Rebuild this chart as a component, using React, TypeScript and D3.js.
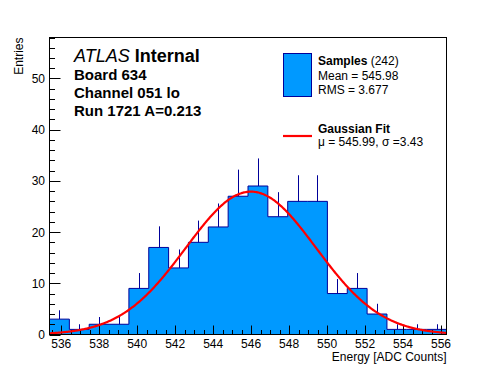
// EnergyHistogram — ROOT-style ADC energy histogram with a Gaussian fit overlay.
import * as d3 from "d3";

const W = 496;
const H = 372;
const FRAME = { left: 49.5, right: 446.5, top: 37.5, bottom: 334.5 };
const FONT = "'Liberation Sans', Arial, Helvetica, sans-serif";
const FILL = "#0099ff";
const EDGE = "#000099";

// histogram: 20 equal bins between binRange[0] and binRange[1]
const binRange = [535.38, 556.29];
const counts = [3, 1, 2, 2, 9, 17, 13, 18, 21, 27, 29, 23, 26, 26, 8, 9, 4, 1, 1, 1];
const yMax = 58;

// gaussian fit parameters
const fitMu = 545.99;
const fitSigma = 3.43;
const fitAmp = 27.9;

const xMajorTicks = [536, 538, 540, 542, 544, 546, 548, 550, 552, 554, 556];
const yMajorTicks = [0, 10, 20, 30, 40, 50];

const infoLines = ["Board 634", "Channel 051 lo", "Run 1721 A=0.213"];

export default function App() {
  const x = d3.scaleLinear().domain(binRange).range([FRAME.left, FRAME.right]);
  const y = d3.scaleLinear().domain([0, yMax]).range([FRAME.bottom, FRAME.top]);

  const nBins = counts.length;
  const bw = (binRange[1] - binRange[0]) / nBins;
  const edges = d3.range(nBins + 1).map((i) => binRange[0] + i * bw);

  // step outline of the histogram
  const stepPts: [number, number][] = [[edges[0], 0]];
  counts.forEach((c, i) => {
    stepPts.push([edges[i], c]);
    stepPts.push([edges[i + 1], c]);
  });
  stepPts.push([edges[nBins], 0]);
  const stepLine = d3.line<[number, number]>()
    .x((d) => x(d[0]))
    .y((d) => y(d[1]));

  const gauss = (v: number) => fitAmp * Math.exp(-0.5 * ((v - fitMu) / fitSigma) ** 2);
  const fitPts = d3.range(binRange[0], binRange[1], 0.05).concat([binRange[1]]);
  const fitLine = d3.line<number>()
    .x((d) => x(d))
    .y((d) => y(gauss(d)))
    .curve(d3.curveMonotoneX);

  const xMinor = d3.range(535.5, binRange[1], 0.5).filter((v) => !xMajorTicks.includes(v));
  const yMinor = d3.range(0, yMax + 0.001, 2).filter((v) => v % 10 !== 0);

  return (
    <svg width={W} height={H} style={{ position: "absolute", left: 0, top: 0, background: "#fff" }}
      fontFamily={FONT}>
      <rect x={0} y={0} width={W} height={H} fill="#fff" />

      {/* histogram fill + outline */}
      <path d={stepLine(stepPts) ?? ""} fill={FILL} stroke="none" />
      <path d={stepLine(stepPts) ?? ""} fill="none" stroke={EDGE} strokeWidth={1} />

      {/* error bars (upper half) */}
      {counts.map((c, i) => {
        const cx = Math.round(x(edges[i] + bw / 2)) + 0.5;
        return (
          <line key={i} x1={cx} x2={cx} y1={y(c)} y2={y(c + Math.sqrt(c))} stroke={EDGE} strokeWidth={1} />
        );
      })}

      {/* axes ticks */}
      <g stroke="#000" strokeWidth={1}>
        {xMajorTicks.map((t) => {
          const tx = Math.round(x(t)) + 0.5;
          return <line key={"xM" + t} x1={tx} x2={tx} y1={FRAME.bottom} y2={FRAME.bottom - 9} />;
        })}
        {xMinor.map((t) => {
          const tx = Math.round(x(t)) + 0.5;
          return <line key={"xm" + t} x1={tx} x2={tx} y1={FRAME.bottom} y2={FRAME.bottom - 4.5} />;
        })}
        {yMajorTicks.map((t) => {
          const ty = Math.round(y(t)) + 0.5;
          return <line key={"yM" + t} x1={FRAME.left} x2={FRAME.left + 11} y1={ty} y2={ty} />;
        })}
        {yMinor.map((t) => {
          const ty = Math.round(y(t)) + 0.5;
          return <line key={"ym" + t} x1={FRAME.left} x2={FRAME.left + 5.5} y1={ty} y2={ty} />;
        })}
      </g>

      {/* gaussian fit */}
      <path d={fitLine(fitPts) ?? ""} fill="none" stroke="#ff0000" strokeWidth={2.2} />

      {/* frame */}
      <rect x={FRAME.left} y={FRAME.top} width={FRAME.right - FRAME.left} height={FRAME.bottom - FRAME.top}
        fill="none" stroke="#000" strokeWidth={1} />

      {/* tick labels */}
      <g fontSize={12} fill="#000">
        {xMajorTicks.map((t) => (
          <text key={"xl" + t} x={x(t)} y={347.5} textAnchor="middle">{t}</text>
        ))}
        {yMajorTicks.map((t) => (
          <text key={"yl" + t} x={45} y={y(t) + 4.5} textAnchor="end">{t}</text>
        ))}
      </g>

      {/* axis titles */}
      <text x={FRAME.right} y={360.5} textAnchor="end" fontSize={12}>Energy [ADC Counts]</text>
      <text transform={`translate(23,${FRAME.top}) rotate(-90)`} textAnchor="end" fontSize={12}>Entries</text>

      {/* label block */}
      <text x={74} y={62} fontSize={18}>
        <tspan fontStyle="italic">ATLAS</tspan>
        <tspan fontWeight="bold"> Internal</tspan>
      </text>
      {infoLines.map((s, i) => (
        <text key={s} x={74} y={79.5 + i * 18} fontSize={15} fontWeight="bold">{s}</text>
      ))}

      {/* legend */}
      <rect x={283.5} y={53.5} width={28} height={43} fill={FILL} stroke={EDGE} strokeWidth={1} />
      <text x={318} y={65} fontSize={12}>
        <tspan fontWeight="bold">Samples</tspan>
        <tspan> (242)</tspan>
      </text>
      <text x={318} y={80} fontSize={12}>Mean = 545.98</text>
      <text x={318} y={94} fontSize={12}>RMS = 3.677</text>
      <line x1={283} x2={312} y1={136} y2={136} stroke="#ff0000" strokeWidth={2.2} />
      <text x={318} y={133} fontSize={12} fontWeight="bold">Gaussian Fit</text>
      <text x={318} y={146} fontSize={12}>μ = 545.99, σ =3.43</text>
    </svg>
  );
}
